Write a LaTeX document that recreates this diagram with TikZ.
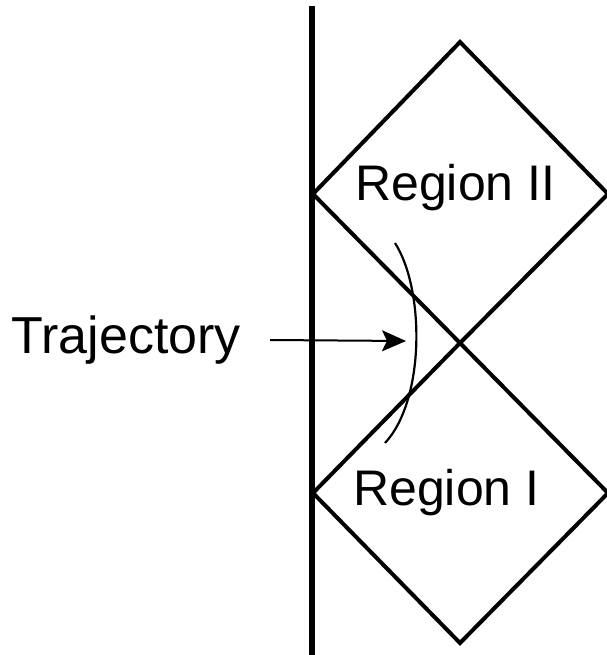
\documentclass[tikz,border=0pt]{standalone}
\usepackage{fontspec}
\setmainfont{Liberation Sans}
\usepackage{tikz}
\usetikzlibrary{arrows.meta,calc}

\begin{document}
\begin{tikzpicture}[x=1pt, y=-1pt]
		
		\tikzstyle{every node}=[font=\fontsize{50}{60}\selectfont, inner sep=0pt]
		\tikzstyle{region}=[line width=4pt, line join=miter]
		\tikzstyle{pointer}=[line width=2pt, -{Stealth[length=24pt, width=21pt, inset=5pt]}]
		
		\useasboundingbox (0,0) rectangle (606,655);
		
		%\draw[style=help lines, step=50, color=gray] (0,0) grid (606,655);
		\draw[line width=6.5pt] (312,6) -- (312,655);
		
		% upper region
		\coordinate (IIw) at (313,194);
		\coordinate (IIn) at (460,42);
		\coordinate (IIe) at (608,194);
		\coordinate (IIs) at (460,343);
		\draw[region] (IIw) -- (IIn) -- (IIe) -- (IIs) -- cycle;
		\node[anchor=base west] (regII) at (355,200) {Region II};
		
		% lower region
		\coordinate (Iw) at (313,493);
		\coordinate (In) at (460,343);
		\coordinate (Ie) at (608,493);
		\coordinate (Is) at (460,643);
		\draw[region] (Iw) -- (In) -- (Ie) -- (Is) -- cycle;
		\node[anchor=base west] (regI) at (353,505) {Region I};
		
		% trajectory
		\draw[line width=2.2pt] (395,243) .. controls (425,290) and (425,400) .. (385,443);
		\coordinate (hit) at (406,341);
		\node[anchor=east, font=\fontsize{52}{62}\selectfont] (traj) at (241,340) {Trajectory};
		\draw[pointer] ([xshift=29pt]traj.east) -- (hit);
		
\end{tikzpicture}
\end{document}
